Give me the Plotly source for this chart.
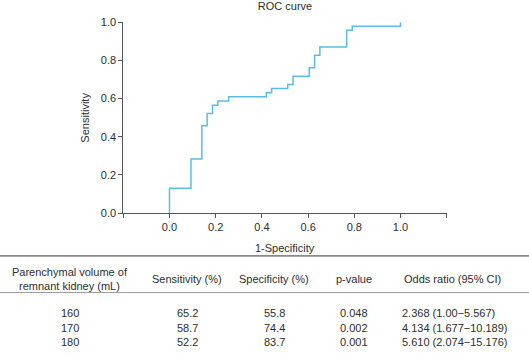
import plotly.graph_objects as go

# ROC curve corner points (1-specificity, sensitivity), drawn as vertical-then-horizontal steps
fpr = [0.0, 0.093, 0.140, 0.163, 0.186, 0.209, 0.256, 0.419, 0.442, 0.512,
       0.535, 0.605, 0.628, 0.651, 0.767, 0.791, 1.0, 1.0]
tpr = [0.0, 0.130, 0.283, 0.457, 0.522, 0.565, 0.587, 0.609, 0.630, 0.652,
       0.674, 0.717, 0.761, 0.826, 0.870, 0.957, 0.978, 1.0]

x_ticks = [-0.2, 0.0, 0.2, 0.4, 0.6, 0.8, 1.0, 1.2]
x_ticktext = ["", "0.0", "0.2", "0.4", "0.6", "0.8", "1.0", ""]
y_ticks = [0.0, 0.2, 0.4, 0.6, 0.8, 1.0]

# Table
headers = ["Parenchymal volume of<br>remnant kidney (mL)", "Sensitivity (%)",
           "Specificity (%)", "p-value", "Odds ratio (95% CI)"]
volumes = ["160", "170", "180"]
sensitivity = ["65.2", "58.7", "52.2"]
specificity = ["55.8", "74.4", "83.7"]
pvalues = ["0.048", "0.002", "0.001"]
odds = ["2.368 (1.00\u22125.567)", "4.134 (1.677\u221210.189)", "5.610 (2.074\u221215.176)"]

W, H = 529, 358
FONT = "Liberation Sans, Arial, sans-serif"
AX = "#555555"
TXT = "#2e2e2e"

def px(x):
    return x / W

def py(y):
    return 1 - y / H

fig = go.Figure()
fig.add_trace(go.Scatter(x=fpr, y=tpr, mode="lines", line=dict(color="#5bbde3", width=1.5, shape="vh"),
                         hoverinfo="skip", showlegend=False))

fig.update_layout(
    width=W, height=H, margin=dict(l=0, r=0, t=0, b=0),
    paper_bgcolor="white", plot_bgcolor="white",
    font=dict(family=FONT, size=11, color=TXT),
    showlegend=False,
    title=dict(text="ROC curve", x=px(285), xanchor="center", xref="container",
               y=py(6.5), yanchor="middle", yref="container", font=dict(size=11, color=TXT, family=FONT)),
    xaxis=dict(domain=[px(123.3), px(446.7)], range=[-0.2, 1.2], tickvals=x_ticks, ticktext=x_ticktext,
               showgrid=False, zeroline=False, showline=True, linecolor=AX, linewidth=1,
               ticks="outside", ticklen=4, tickcolor=AX, tickfont=dict(size=11, color=TXT)),
    yaxis=dict(domain=[py(214.3), py(16.7)], range=[0, 1], tickvals=y_ticks, tickformat=".1f",
               showgrid=False, zeroline=False, showline=True, linecolor=AX, linewidth=1,
               ticks="outside", ticklen=4, tickcolor=AX, tickfont=dict(size=11, color=TXT)),
)

ann = []
def text(x, y, s, xanchor="center", yanchor="middle", size=11, **kw):
    ann.append(dict(x=px(x), y=py(y), xref="paper", yref="paper", text=s, showarrow=False,
                    xanchor=xanchor, yanchor=yanchor, font=dict(size=size, color=TXT, family=FONT), **kw))

text(285, 250, "1-Specificity")
ann.append(dict(x=px(85), y=py(115.5), xref="paper", yref="paper", text="Sensitivity", showarrow=False,
                textangle=-90, xanchor="center", yanchor="middle",
                font=dict(size=11, color=TXT, family=FONT)))

col_x = [70, 187, 274, 354, 452]
for i in range(5):
    text(col_x[i], 282.5, headers[i])

row_y = [318, 333, 348]
for r in range(3):
    text(col_x[0], row_y[r], volumes[r])
    text(col_x[1], row_y[r], sensitivity[r])
    text(col_x[2], row_y[r], specificity[r])
    text(col_x[3], row_y[r], pvalues[r])
    text(400, row_y[r], odds[r], xanchor="left")

fig.update_layout(annotations=ann)

fig.add_shape(type="line", xref="paper", yref="paper", x0=0, x1=1, y0=py(258.5), y1=py(258.5),
              line=dict(color="#8a8a8a", width=1.6))
fig.add_shape(type="line", xref="paper", yref="paper", x0=0, x1=1, y0=py(296.5), y1=py(296.5),
              line=dict(color="#9a9a9a", width=1))
fig.write_html("out.html")
